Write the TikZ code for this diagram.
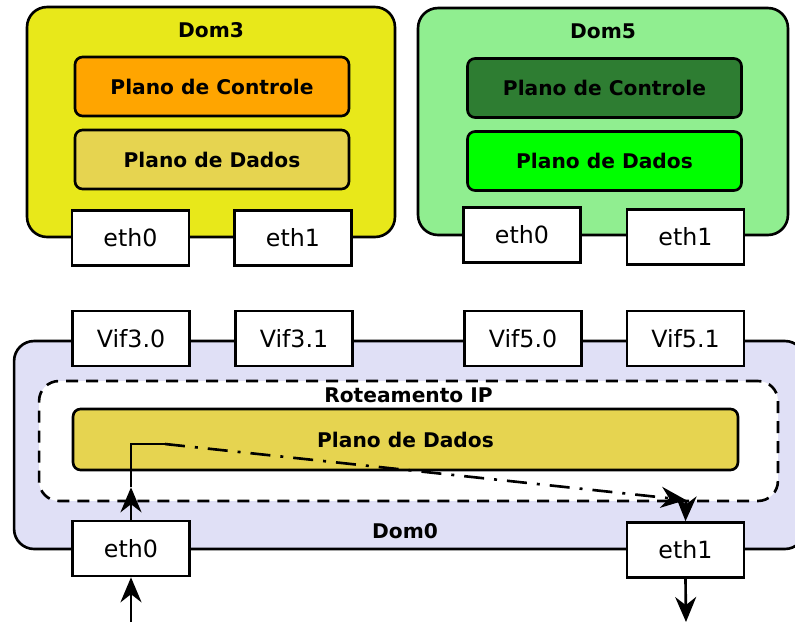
\documentclass[tikz,border=0pt]{standalone}
\usepackage{fontspec}
\setmainfont{DejaVu Sans}
\usepackage{tikz}
\usetikzlibrary{positioning, arrows.meta}

\definecolor{domyellow}{RGB}{232,232,26}
\definecolor{ctrlorange}{RGB}{255,165,0}
\definecolor{dadostan}{RGB}{230,212,80}
\definecolor{domgreen}{RGB}{144,238,144}
\definecolor{ctrlgreen}{RGB}{46,125,50}
\definecolor{dadoslime}{RGB}{0,255,0}
\definecolor{domlavender}{RGB}{224,224,246}

\begin{document}
\begin{tikzpicture}[x=0.02cm, y=-0.02cm,
	dom/.style={draw, line width=1.5pt, rounded corners=0.4cm},
	plane/.style={draw, line width=1.5pt, rounded corners=0.15cm, minimum width=5.48cm, minimum height=1.18cm, font=\fontsize{11.5}{13}\selectfont\bfseries},
	iface/.style={draw, fill=white, line width=1.5pt, minimum width=2.34cm, minimum height=1.1cm, font=\fontsize{13.5}{15}\selectfont},
	title/.style={font=\fontsize{11.5}{13}\selectfont\bfseries, inner sep=1pt},
	flow/.style={line width=1.5pt, -{Stealth[length=5mm, width=4.2mm]}}]
	\clip (0,0) rectangle (795,626);

	% Dom3
	\node[dom, fill=domyellow, minimum width=7.36cm, minimum height=4.6cm] (dom3) at (211,122) {};
	\node[title, below=0.3cm of dom3.north] (t3) {Dom3};
	\node[plane, fill=ctrlorange] (ctrl3) at (212,86.5) {Plano de Controle};
	\node[plane, fill=dadostan] (dados3) at (212,159.5) {Plano de Dados};
	\node[iface] (eth30) at (130.5,238) {eth0};
	\node[iface] (eth31) at (293,238) {eth1};

	% Dom5
	\node[dom, fill=domgreen, minimum width=7.4cm, minimum height=4.54cm] (dom5) at (603,121.5) {};
	\node[title, below=0.3cm of dom5.north] (t5) {Dom5};
	\node[plane, fill=ctrlgreen] (ctrl5) at (604.5,88) {Plano de Controle};
	\node[plane, fill=dadoslime] (dados5) at (604.5,161) {Plano de Dados};
	\node[iface] (eth50) at (522,235) {eth0};
	\node[iface] (eth51) at (685.5,237) {eth1};

	% Dom0
	\node[dom, fill=domlavender, minimum width=15.82cm, minimum height=4.16cm] (dom0) at (409.5,445) {};
	\node[dom, fill=white, dash pattern=on 2.4mm off 1.6mm, minimum width=14.78cm, minimum height=2.4cm] (rot) at (408.5,441) {};
	\node[title, below=3.5pt of rot.north] (trot) {Roteamento IP};
	\node[plane, fill=dadostan, minimum width=13.3cm, minimum height=1.22cm] (dados0) at (405.5,439.5) {Plano de Dados};
	\node[title] (t0) at (405,531) {Dom0};
	\node[iface] (vif30) at (131,338.5) {Vif3.0};
	\node[iface] (vif31) at (294,338.5) {Vif3.1};
	\node[iface] (vif50) at (523,338.5) {Vif5.0};
	\node[iface] (vif51) at (685.5,338.5) {Vif5.1};
	\node[iface] (eth0) at (131,548.5) {eth0};
	\node[iface] (eth1) at (685.5,550) {eth1};

	% caminho dos pacotes
	\coordinate (in) at (131,622);
	\coordinate (turn) at (131,444);
	\coordinate (dash) at (165,444);
	\coordinate (bend) at (686,500);
	\coordinate (out) at (686,622);
	\draw[flow] (in) -- (eth0.south);
	\draw[flow] (eth0.north) -- ([yshift=3mm]eth0.north |- rot.south);
	\draw[line width=1.5pt] ([yshift=3mm]eth0.north |- rot.south) -- (turn) -- (dash);
	\draw[flow, dash pattern=on 4mm off 2mm on 0.6mm off 2mm] (dash) -- (bend);
	\draw[flow] (bend) -- (eth1.north);
	\draw[flow] (eth1.south) -- (out);
\end{tikzpicture}
\end{document}
